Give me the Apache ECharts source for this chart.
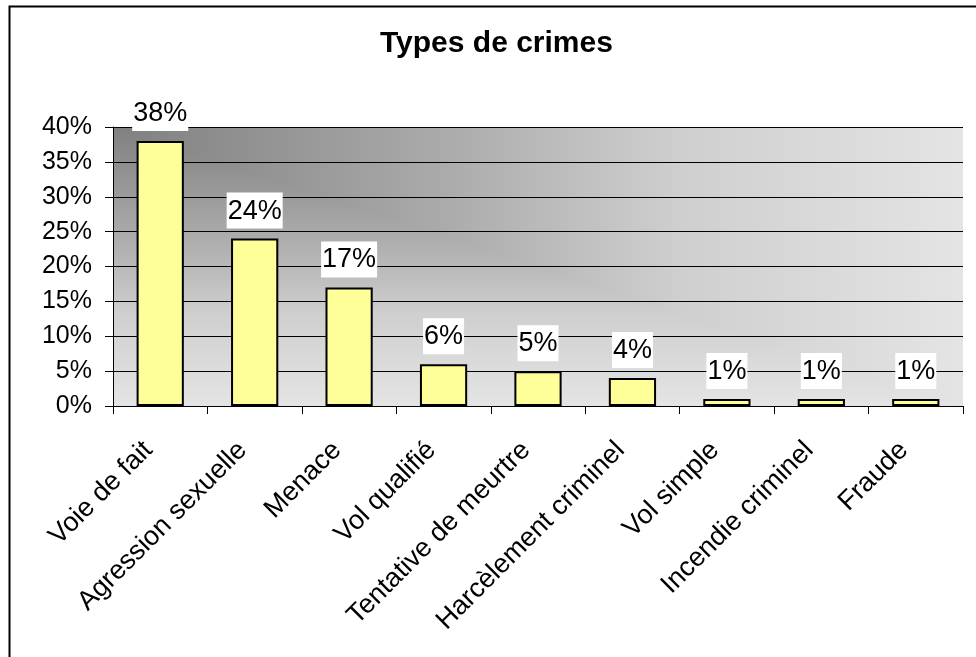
<!DOCTYPE html>
<html>
<head>
<meta charset="utf-8">
<script src="https://cdn.jsdelivr.net/npm/echarts@6/dist/echarts.min.js"></script>
<style>
html,body{margin:0;padding:0;background:#fff;}
#main{width:976px;height:657px;}
</style>
</head>
<body>
<div id="main"></div>
<script>
const titleText = 'Types de crimes';
const categories = ['Voie de fait','Agression sexuelle','Menace','Vol qualifié','Tentative de meurtre','Harcèlement criminel','Vol simple','Incendie criminel','Fraude'];
const values = [38, 24, 17, 6, 5, 4, 1, 1, 1];
const yMin = 0, yMax = 40, yStep = 5;

const FONT = '"Liberation Sans", Arial, Helvetica, sans-serif';
const G = {left: 113, top: 127, right: 13, bottom: 251};

const chart = echarts.init(document.getElementById('main'), null, {renderer: 'canvas'});
const W = 976 - G.left - G.right;
const H = 657 - G.top - G.bottom;
const x0 = G.left, y0 = G.top, x1 = G.left + W, y1 = G.top + H;
const stops = [
  {offset: 0, color: '#808080'},
  {offset: 0.35, color: '#a6a6a6'},
  {offset: 0.67, color: '#cfcfcf'},
  {offset: 1, color: '#e4e4e4'}
];

chart.setOption({
  backgroundColor: '#ffffff',
  animation: false,
  title: {
    text: titleText,
    left: 375,
    top: 24,
    textStyle: {fontFamily: FONT, fontSize: 30, fontWeight: 'bold', color: '#000'}
  },
  graphic: [
    {type: 'rect', z: -20, silent: true,
     shape: {x: 9.5, y: 6.5, width: 1000, height: 700},
     style: {fill: '#fff', stroke: '#000', lineWidth: 2}},
    {type: 'rect', z: -10, silent: true,
     shape: {x: x0, y: y0, width: W, height: H},
     style: {fill: new echarts.graphic.LinearGradient(0, 0, 0, 1, stops)}},
    {type: 'polygon', z: -9, silent: true,
     shape: {points: [[x0, y0], [x1, y0], [x1, y1]]},
     style: {fill: new echarts.graphic.LinearGradient(0, 0, 1, 0, stops)}}
  ],
  grid: {left: G.left, top: G.top, right: G.right, bottom: G.bottom, containLabel: false},
  xAxis: {
    type: 'category',
    data: categories,
    axisLine: {show: true, lineStyle: {color: '#000', width: 1}},
    axisTick: {show: true, length: 8, lineStyle: {color: '#000'}},
    axisLabel: {
      interval: 0, rotate: 45, margin: 28,
      fontFamily: FONT, fontSize: 27, color: '#000',
      padding: [0, 17, 0, 0]
    }
  },
  yAxis: {
    type: 'value',
    min: yMin, max: yMax, interval: yStep,
    axisLine: {show: true, lineStyle: {color: '#000', width: 1}},
    axisTick: {show: true, length: 8, lineStyle: {color: '#000'}},
    axisLabel: {formatter: '{value}%', fontFamily: FONT, fontSize: 25, color: '#000', margin: 21},
    splitLine: {show: true, lineStyle: {color: '#000', width: 1}}
  },
  series: [{
    type: 'bar',
    data: values,
    barWidth: '50%',
    itemStyle: {color: '#FFFF99', borderColor: '#000', borderWidth: 2},
    label: {
      show: true,
      position: 'top',
      distance: 10,
      formatter: '{c}%',
      fontFamily: FONT,
      fontSize: 27,
      color: '#000',
      backgroundColor: '#fff',
      lineHeight: 31,
      padding: [3, 1, 2, 1]
    }
  }]
});
</script>
</body>
</html>
